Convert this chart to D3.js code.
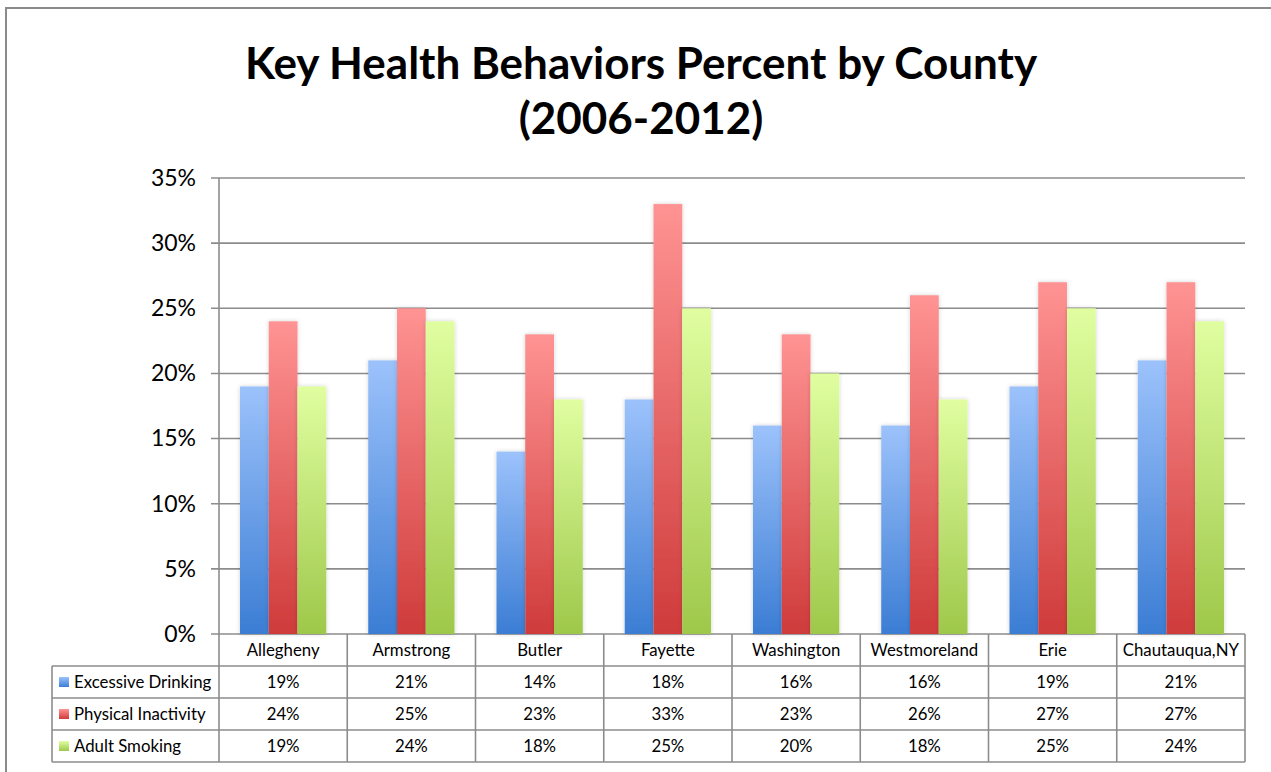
<!DOCTYPE html>
<html><head><meta charset="utf-8">
<script src="https://cdn.jsdelivr.net/npm/d3@7/dist/d3.min.js"></script>
<style>
html,body{margin:0;padding:0;background:#fff;}
svg{display:block;font-family:Lato,"Open Sans",sans-serif;}
</style></head><body>
<svg id="c" width="1271" height="772"></svg>
<script>
const categories = ["Allegheny","Armstrong","Butler","Fayette","Washington","Westmoreland","Erie","Chautauqua,NY"];
const seriesNames = ["Excessive Drinking","Physical Inactivity","Adult Smoking"];
const excessiveDrinking = [19,21,14,18,16,16,19,21];
const physicalInactivity = [24,25,23,33,23,26,27,27];
const adultSmoking = [19,24,18,25,20,18,25,24];
const yTicks = [0,5,10,15,20,25,30,35];
const titleLines = ["Key Health Behaviors Percent by County","(2006-2012)"];

(function(){
const seriesValues = [excessiveDrinking, physicalInactivity, adultSmoking];
const colors = [["#9cc2fb","#3b7dd4"],["#ff9393","#cf3b3b"],["#e0fea0","#9ec84a"]];

const svg = d3.select("#c");
const defs = svg.append("defs");
colors.forEach((c,i)=>{
  const g = defs.append("linearGradient").attr("id","g"+i).attr("x1",0).attr("y1",0).attr("x2",0).attr("y2",1);
  g.append("stop").attr("offset","0%").attr("stop-color",c[0]);
  g.append("stop").attr("offset","100%").attr("stop-color",c[1]);
});
const f = defs.append("filter").attr("id","sh").attr("x","-30%").attr("y","-10%").attr("width","160%").attr("height","120%");
f.append("feDropShadow").attr("dx",0).attr("dy",0).attr("stdDeviation",2).attr("flood-color","#000").attr("flood-opacity",0.18);

svg.append("rect").attr("x",6).attr("y",8).attr("width",1300).attr("height",800)
  .attr("fill","none").attr("stroke","#8a8a8a").attr("stroke-width",2);

svg.append("g").selectAll("text").data(titleLines).join("text")
  .attr("x",641).attr("y",(d,i)=>79+i*55)
  .attr("text-anchor","middle").attr("font-weight","bold").attr("font-size",44).attr("fill","#000")
  .text(d=>d);

const pLeft = 219, pRight = 1245, pTop = 178, pBottom = 634;
const x = d3.scaleBand().domain(categories).range([pLeft,pRight]).paddingInner(0).paddingOuter(0);
const y = d3.scaleLinear().domain([0,35]).range([pBottom,pTop]);
const xs = d3.scaleBand().domain(d3.range(3)).range([0,x.bandwidth()]).paddingOuter(0.73).paddingInner(0);

svg.append("g").selectAll("line").data(yTicks).join("line")
  .attr("x1",pLeft-8).attr("x2",pRight).attr("y1",d=>y(d)).attr("y2",d=>y(d))
  .attr("stroke","#8c8c8c").attr("stroke-width",1.6);
svg.append("line").attr("x1",pLeft).attr("x2",pLeft).attr("y1",pTop).attr("y2",pBottom)
  .attr("stroke","#8c8c8c").attr("stroke-width",1.6);

const yAxis = d3.axisLeft(y).tickValues(yTicks).tickFormat(d=>d+"%").tickSize(0).tickPadding(0);
const ya = svg.append("g").attr("transform",`translate(${pLeft-23},0)`).call(yAxis);
ya.select(".domain").remove();
ya.selectAll("text").attr("font-size",23).attr("font-family","Lato,'Open Sans',sans-serif").attr("fill","#000").attr("dy","0.32em");

const groups = svg.append("g").selectAll("g").data(categories).join("g")
  .attr("transform",d=>`translate(${x(d)},0)`);
groups.selectAll("rect").data((d,ci)=>seriesValues.map((s,si)=>({si,v:s[ci]}))).join("rect")
  .attr("x",d=>xs(d.si)).attr("width",xs.bandwidth())
  .attr("y",d=>y(d.v)).attr("height",d=>y(0)-y(d.v))
  .attr("fill",d=>`url(#g${d.si})`).attr("filter","url(#sh)");

const tableTop = pBottom, rowH = 32, legendLeft = 52;
const tg = svg.append("g");
const lc = "#8c8c8c";
[1,2,3,4].forEach(r=>{
  tg.append("line").attr("x1",legendLeft).attr("x2",pRight).attr("y1",tableTop+r*rowH).attr("y2",tableTop+r*rowH)
    .attr("stroke",lc).attr("stroke-width",1.6);
});
categories.forEach(c=>{
  tg.append("line").attr("x1",x(c)).attr("x2",x(c)).attr("y1",tableTop).attr("y2",tableTop+4*rowH).attr("stroke",lc).attr("stroke-width",1.6);
});
tg.append("line").attr("x1",pRight).attr("x2",pRight).attr("y1",tableTop).attr("y2",tableTop+4*rowH).attr("stroke",lc).attr("stroke-width",1.6);
tg.append("line").attr("x1",legendLeft).attr("x2",legendLeft).attr("y1",tableTop+rowH).attr("y2",tableTop+4*rowH).attr("stroke",lc).attr("stroke-width",1.6);

const fs = 16.8;
tg.selectAll("text.h").data(categories).join("text").attr("class","h")
  .attr("x",d=>x(d)+x.bandwidth()/2).attr("y",tableTop+rowH/2).attr("dy","0.35em")
  .attr("text-anchor","middle").attr("font-size",fs).text(d=>d);
seriesNames.forEach((name,si)=>{
  const ry = tableTop+(si+1)*rowH+rowH/2;
  tg.append("rect").attr("x",59).attr("y",ry-5).attr("width",10).attr("height",10).attr("fill",`url(#g${si})`);
  tg.append("text").attr("x",74).attr("y",ry).attr("dy","0.35em").attr("font-size",fs).text(name);
  tg.selectAll("text.v"+si).data(seriesValues[si]).join("text").attr("class","v"+si)
    .attr("x",(d,i)=>x(categories[i])+x.bandwidth()/2).attr("y",ry).attr("dy","0.35em")
    .attr("text-anchor","middle").attr("font-size",fs).text(d=>d+"%");
});
})();
</script>
</body></html>
